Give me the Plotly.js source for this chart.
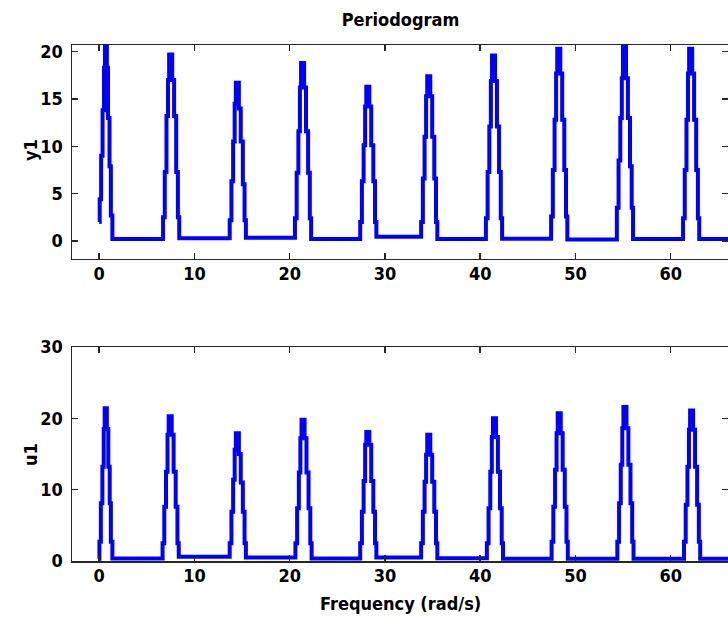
<!DOCTYPE html>
<html><head><meta charset="utf-8">
<script src="https://cdn.plot.ly/plotly-3.0.1.min.js"></script>
<style>html,body{margin:0;padding:0;background:#fff;overflow:hidden}</style>
</head><body><div id="chart" style="width:728px;height:617px"></div>
<script>
// ---- y1 periodogram (rad/s, power) ----
const y1FirstPeakFreq  = [0, 0.05, 0.2, 0.35, 0.5, 0.6, 0.8, 0.92, 1.08, 1.22, 1.38];
const y1FirstPeakPower = [2.0, 4.4, 9.0, 13.8, 18.3, 21.5, 18.3, 13.0, 7.9, 2.7, 0.2];
const y1PeakFreq = [7.5, 14.5, 21.35, 28.2, 34.6, 41.4, 48.25, 55.15, 62.1];
const y1PeakLevels = [
  [2.5, 7.3, 13.2, 17.0, 19.7, 17.0, 13.2, 7.3, 2.5],
  [2.2, 6.3, 10.5, 14.5, 16.7, 14.0, 10.5, 6.0, 2.2],
  [2.4, 7.2, 11.6, 16.2, 18.8, 16.2, 11.6, 7.2, 2.4],
  [2.0, 6.3, 10.1, 14.2, 16.3, 14.2, 10.1, 6.3, 2.0],
  [2.0, 6.6, 11.0, 15.3, 17.4, 15.3, 11.0, 6.6, 2.0],
  [2.4, 7.3, 12.1, 16.9, 19.6, 16.9, 12.1, 7.3, 2.4],
  [2.6, 7.5, 12.8, 17.7, 20.3, 17.7, 12.8, 7.5, 2.6],
  [3.5, 8.5, 13.0, 17.2, 21.5, 17.2, 13.0, 7.9, 3.5],
  [2.4, 7.5, 12.8, 17.7, 20.3, 17.7, 12.8, 7.5, 2.4]
];
const y1GapPower = [0.3, 0.35, 0.2, 0.45, 0.2, 0.25, 0.15, 0.2, 0.2];

// ---- u1 periodogram ----
const u1FirstPeakFreq  = [0, 0.02, 0.17, 0.33, 0.47, 0.57, 0.8, 0.95, 1.1, 1.22, 1.38];
const u1FirstPeakPower = [0.3, 2.7, 8.1, 13.2, 18.5, 21.4, 18.5, 13.2, 8.1, 2.7, 0.35];
const u1PeakFreq = [7.45, 14.5, 21.4, 28.2, 34.6, 41.5, 48.3, 55.2, 62.2];
const u1PeakLevels = [
  [2.5, 7.6, 12.5, 17.7, 20.3, 17.7, 12.5, 7.6, 2.5],
  [2.5, 6.9, 11.4, 15.6, 17.9, 15.0, 11.0, 6.9, 2.5],
  [2.5, 7.4, 12.4, 17.2, 19.8, 17.2, 12.4, 7.4, 2.5],
  [2.5, 6.9, 11.2, 16.3, 18.1, 16.3, 11.2, 6.9, 2.5],
  [2.5, 6.9, 11.1, 14.9, 17.7, 14.9, 11.1, 6.9, 2.5],
  [2.5, 7.4, 12.5, 17.4, 20.0, 17.4, 12.5, 7.4, 2.5],
  [2.7, 7.6, 12.8, 17.9, 20.7, 17.9, 12.8, 7.6, 2.7],
  [2.7, 8.1, 13.5, 18.6, 21.6, 18.6, 13.5, 8.1, 2.7],
  [2.7, 7.9, 13.2, 18.4, 21.1, 18.4, 13.2, 7.9, 2.7]
];
const u1GapPower = [0.6, 0.5, 0.35, 0.5, 0.4, 0.3, 0.3, 0.3, 0.3];

// frequency offsets of the stair steps around each peak centre (rad/s)
const stepOffsets = [-0.8, -0.62, -0.44, -0.28, -0.16, 0.16, 0.36, 0.58, 0.76, 0.9];
const freqEnd = 66.5;

const xTicks = [0, 10, 20, 30, 40, 50, 60];
const y1Ticks = [0, 5, 10, 15, 20];
const u1Ticks = [0, 10, 20, 30];

function buildSeries(firstF, firstP, centers, levels, gaps) {
  const x = firstF.slice(), y = firstP.slice();
  centers.forEach((c, i) => {
    levels[i].forEach((v, j) => { x.push(+(c + stepOffsets[j]).toFixed(3)); y.push(v); });
    x.push(+(c + stepOffsets[9]).toFixed(3)); y.push(gaps[i]);
  });
  x.push(freqEnd); y.push(gaps[gaps.length - 1]);
  return {x, y};
}

const s1 = buildSeries(y1FirstPeakFreq, y1FirstPeakPower, y1PeakFreq, y1PeakLevels, y1GapPower);
const s2 = buildSeries(u1FirstPeakFreq, u1FirstPeakPower, u1PeakFreq, u1PeakLevels, u1GapPower);

const FONT = 'DejaVu Sans Condensed, Liberation Sans Narrow, Arial Narrow, DejaVu Sans, sans-serif';
const lineStyle = {color: '#0000ff', width: 4, shape: 'hv'};

const traces = [
  {x: s1.x, y: s1.y, type: 'scatter', mode: 'lines', line: lineStyle, xaxis: 'x', yaxis: 'y', showlegend: false, hoverinfo: 'skip'},
  {x: s2.x, y: s2.y, type: 'scatter', mode: 'lines', line: lineStyle, xaxis: 'x2', yaxis: 'y2', showlegend: false, hoverinfo: 'skip'}
];

const tickFont = {family: FONT, size: 18, color: '#000', weight: 'bold'};
const axCommon = {
  showline: true, linecolor: '#262626', linewidth: 1.5, mirror: 'ticks',
  ticks: 'inside', ticklen: 6, tickwidth: 1.5, tickcolor: '#262626',
  showgrid: false, zeroline: false, tickfont: tickFont, fixedrange: true, automargin: false
};
const titleFont = {family: FONT, size: 18, color: '#000', weight: 'bold'};

const layout = {
  width: 728, height: 617,
  margin: {l: 72, r: 0, t: 45, b: 56},
  paper_bgcolor: '#fff', plot_bgcolor: '#fff',
  title: {text: 'Periodogram', x: 0.5501, xanchor: 'center', y: 0.9676, yanchor: 'middle', font: titleFont},
  xaxis: Object.assign({}, axCommon, {domain: [0, 1], range: [-2.86, 66.02], anchor: 'y',
          tickmode: 'array', tickvals: xTicks, ticklabelstandoff: -2}),
  yaxis: Object.assign({}, axCommon, {domain: [0.5853, 1], range: [-1.9, 20.7], anchor: 'x',
          tickmode: 'array', tickvals: y1Ticks, ticklabelstandoff: 4}),
  xaxis2: Object.assign({}, axCommon, {domain: [0, 1], range: [-2.86, 66.02], anchor: 'y2',
          tickmode: 'array', tickvals: xTicks, ticklabelstandoff: -2}),
  yaxis2: Object.assign({}, axCommon, {domain: [0, 0.4147], range: [0, 30], anchor: 'x2',
          tickmode: 'array', tickvals: u1Ticks, ticklabelstandoff: 4}),
  annotations: [
    {text: 'y1', xref: 'paper', yref: 'paper', x: -0.064, y: 0.7965, xanchor: 'center', yanchor: 'middle',
     textangle: -90, showarrow: false, font: titleFont},
    {text: 'u1', xref: 'paper', yref: 'paper', x: -0.064, y: 0.2054, xanchor: 'center', yanchor: 'middle',
     textangle: -90, showarrow: false, font: titleFont},
    {text: 'Frequency (rad/s)', xref: 'paper', yref: 'paper', x: 0.5008, y: -0.0833, xanchor: 'center', yanchor: 'middle',
     showarrow: false, font: titleFont}
  ]
};

Plotly.newPlot('chart', traces, layout, {staticPlot: true, displayModeBar: false});
</script>
</body></html>
